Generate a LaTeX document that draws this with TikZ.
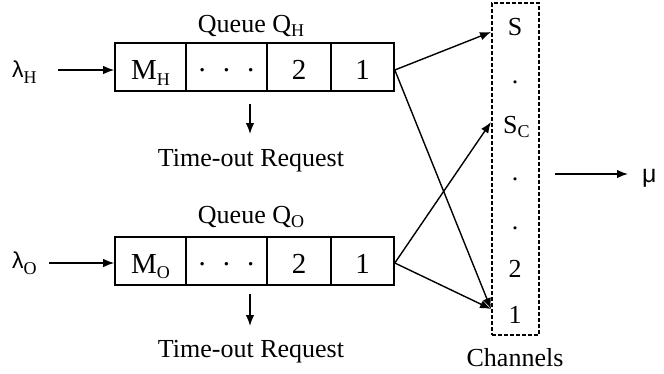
\documentclass[tikz,border=0pt]{standalone}
\usepackage{fontspec}
\setmainfont{Liberation Serif}
\newfontfamily\symf{Liberation Sans}
\newcommand\subx[2][-4pt]{\smash{\raisebox{#1}{\rmfamily\fontsize{18}{20}\selectfont #2}}}
\usetikzlibrary{arrows.meta}
\begin{document}
\begin{tikzpicture}[x=1pt,y=-1pt,
  font=\fontsize{26}{31}\selectfont,
  cell/.style={draw,line width=1.6pt,minimum height=48pt,inner sep=0pt,anchor=center,text height=24pt,text depth=0pt,font=\fontsize{29}{34}\selectfont},
  arr/.style={line width=1.4pt,-{Latex[length=11pt,width=8.5pt]}},
  lbl/.style={inner sep=0pt,anchor=base},
  sym/.style={inner sep=0pt,anchor=base west,font=\symf\fontsize{23}{28}\selectfont}]
\useasboundingbox (0,0) rectangle (664,373);
% top queue
\node[cell,minimum width=71pt] (hM) at (150.5,67) {M\subx[-6pt]{H}};
\node[cell,minimum width=81pt] (hD) at (226.5,67) {\raisebox{8pt}{.}\hspace{17pt}\raisebox{8pt}{.}\hspace{17pt}\raisebox{8pt}{.}};
\node[cell,minimum width=64pt] (h2) at (299,67) {2};
\node[cell,minimum width=63pt] (h1) at (362.5,67) {1};
\node[lbl] (qH) at (251,32) {Queue Q\subx{H}};
\node[sym] (lH) at (12,77) {λ\subx[-6pt]{H}};
\node[lbl] (tH) at (251,166) {Time-out Request};
\coordinate (tHs) at (250,104);
\coordinate (tHe) at (250,134);
% bottom queue
\node[cell,minimum width=71pt] (oM) at (150.5,261) {M\subx[-5pt]{O}};
\node[cell,minimum width=81pt] (oD) at (226.5,261) {\raisebox{8pt}{.}\hspace{17pt}\raisebox{8pt}{.}\hspace{17pt}\raisebox{8pt}{.}};
\node[cell,minimum width=64pt] (o2) at (299,261) {2};
\node[cell,minimum width=63pt] (o1) at (362.5,261) {1};
\node[lbl] (qO) at (251,223) {Queue Q\subx{O}};
\node[sym] (lO) at (12,268) {λ\subx[-6pt]{O}};
\node[lbl] (tO) at (251,357) {Time-out Request};
\coordinate (tOs) at (250,294);
\coordinate (tOe) at (250,326);
% channels
\node[draw,line width=1.3pt,dash pattern=on 4pt off 2pt,minimum width=47pt,minimum height=332pt,inner sep=0pt] (ch) at (515.5,169) {};
\node[lbl] (cS) at (515,35) {S};
\node[lbl] (cd1) at (515,83) {.};
\node[lbl,anchor=base west] (cSC) at (503,133) {S\subx{C}};
\node[lbl] (cd2) at (515,180) {.};
\node[lbl] (cd3) at (515,229) {.};
\node[lbl] (c2) at (515,277) {2};
\node[lbl] (c1) at (515,323) {1};
\node[lbl] (chl) at (515,366) {Channels};
\coordinate (eS) at (491,32);
\coordinate (eSC) at (491,122);
\coordinate (e1) at (491,309);
\coordinate (os) at (555,174);
\coordinate (oe) at (628,174);
\node[sym,font=\symf\fontsize{25}{30}\selectfont] (mu) at (642,182) {μ};
% arrows
\coordinate (lHa) at (58,70);
\coordinate (lOa) at (49,263);
\coordinate (hout) at ([yshift=-3pt]h1.east);
\coordinate (oout) at ([yshift=-2pt]o1.east);
\draw[arr] (lHa) -- (hM.west |- lHa);
\draw[arr] (lOa) -- (oM.west |- lOa);
\draw[arr] (tHs) -- (tHe);
\draw[arr] (tOs) -- (tOe);
\draw[arr] (hout) -- (eS);
\draw[arr] (hout) -- (e1);
\draw[arr] (oout) -- (eSC);
\draw[arr] (oout) -- (e1);
\draw[arr] (os) -- (oe);
\end{tikzpicture}
\end{document}
